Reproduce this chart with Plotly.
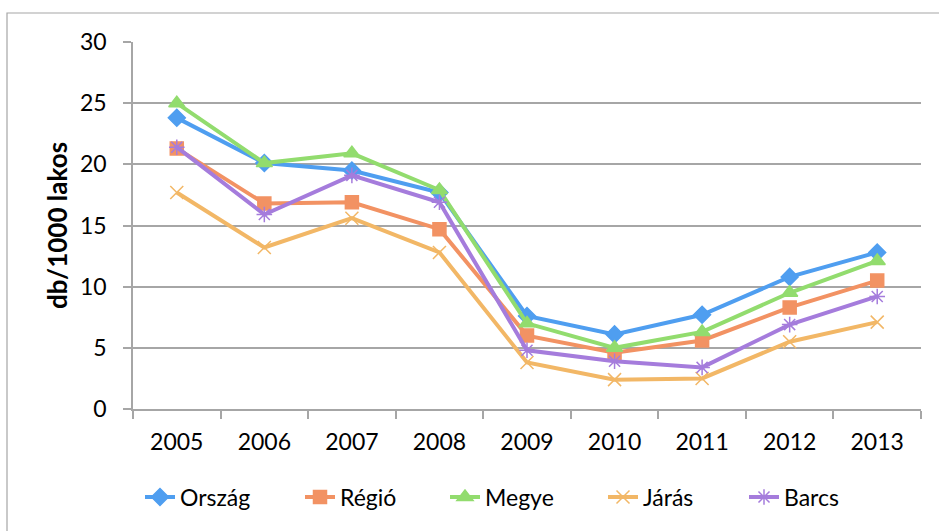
import plotly.graph_objects as go

years = ["2005", "2006", "2007", "2008", "2009", "2010", "2011", "2012", "2013"]
orszag = [23.8, 20.1, 19.5, 17.7, 7.6, 6.1, 7.7, 10.8, 12.8]
regio = [21.3, 16.8, 16.9, 14.7, 6.0, 4.6, 5.6, 8.3, 10.5]
megye = [25.0, 20.1, 20.9, 17.9, 7.0, 5.0, 6.3, 9.5, 12.1]
jaras = [17.7, 13.2, 15.6, 12.8, 3.8, 2.4, 2.5, 5.5, 7.1]
barcs = [21.4, 15.9, 19.1, 16.9, 4.8, 3.9, 3.4, 6.9, 9.2]
y_ticks = [0, 5, 10, 15, 20, 25, 30]

FONT = "Lato"
FS = 23

W, H = 939, 531
L, R, T, B = 133, 18, 42, 122
pw, ph = W - L - R, H - T - B

def px_x(p):
    return (p - L) / pw

def px_y(p):
    return (H - B - p) / ph

# name, values, colour, marker, size, left pixel of its legend entry text
series = [
    ("Ország", orszag, "#4F9EF0", "diamond", 13, 182),
    ("Régió", regio, "#F29263", "square", 13, 342),
    ("Megye", megye, "#92DC6E", "triangle-up", 14, 487),
    ("Járás", jaras, "#F2B766", "x-thin-open", 13, 645),
    ("Barcs", barcs, "#A57CDC", "asterisk-open", 13, 786),
]

fig = go.Figure()
legend_layout = {}
for i, (name, vals, color, sym, size, text_x) in enumerate(series):
    key = "legend" if i == 0 else f"legend{i + 1}"
    fig.add_trace(go.Scatter(
        x=years, y=vals, name=name, mode="lines+markers",
        line=dict(color=color, width=4),
        marker=dict(symbol=sym, size=size, color=color,
                    line=dict(color=color, width=1.5)),
        legend=key,
    ))
    legend_layout[key] = dict(
        orientation="h", x=px_x(text_x - 42), xanchor="left",
        y=px_y(497), yanchor="middle",
        font=dict(size=FS, family=FONT), bgcolor="rgba(0,0,0,0)",
    )

# outer chart frame
fig.add_shape(type="rect", xref="paper", yref="paper",
              x0=px_x(7), x1=px_x(945), y0=px_y(540), y1=px_y(13),
              line=dict(color="#A6A6A6", width=1.2), layer="below")

fig.update_layout(
    width=W, height=H,
    margin=dict(l=L, r=R, t=T, b=B),
    paper_bgcolor="white", plot_bgcolor="white",
    font=dict(family=FONT, size=FS, color="#000000"),
    showlegend=True,
    xaxis=dict(
        type="category", range=[-0.5, 8.5],
        showline=True, linecolor="#A6A6A6", linewidth=1.5,
        showgrid=False, ticks="outside", tickson="boundaries",
        ticklen=8, tickcolor="#A6A6A6", tickwidth=1.5,
        tickfont=dict(size=FS, family=FONT),
        ticklabelstandoff=12,
        zeroline=False,
    ),
    yaxis=dict(
        range=[0, 30], tickvals=y_ticks,
        showline=True, linecolor="#A6A6A6", linewidth=1.5,
        showgrid=True, gridcolor="#A6A6A6", gridwidth=1.5,
        ticks="outside", ticklen=8, tickcolor="#A6A6A6", tickwidth=1.5,
        tickfont=dict(size=FS, family=FONT),
        ticklabelstandoff=12,
        zeroline=False,
        title=dict(text="<b>db/1000 lakos</b>", font=dict(size=26, family=FONT),
                   standoff=5),
    ),
    **legend_layout,
)

fig.write_html("out.html")
